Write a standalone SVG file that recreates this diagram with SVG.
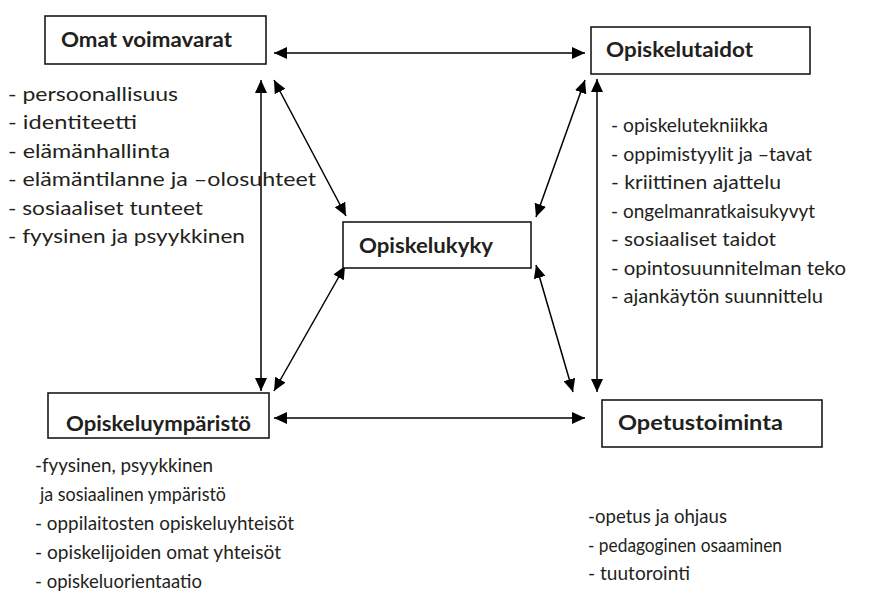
<svg xmlns="http://www.w3.org/2000/svg" width="874" height="599" viewBox="0 0 874 599">
  <style>
    .box { fill: #ffffff; stroke: #1a1a1a; stroke-width: 1.6; }
    .title { font-family: Lato, "Open Sans", sans-serif; font-weight: bold; font-size: 20px; fill: #231f20; }
    .item { font-family: Lato, "Open Sans", sans-serif; font-size: 19px; fill: #231f20; }
    .link { stroke: #000000; stroke-width: 1.5; fill: none; marker-start: url(#arrow); marker-end: url(#arrow); }
  </style>
  <defs>
    <marker id="arrow" markerUnits="userSpaceOnUse" markerWidth="14" markerHeight="12" viewBox="0 0 14 12" refX="13" refY="6" orient="auto-start-reverse">
      <path d="M0,0 L13,6 L0,12 Z" fill="#000000"/>
    </marker>
  </defs>
  <rect width="874" height="599" fill="#ffffff"/>

  <g id="connectors">
    <line class="link" x1="274" y1="53" x2="585" y2="53"/>
    <line class="link" x1="261" y1="80" x2="261" y2="391"/>
    <line class="link" x1="274" y1="80" x2="346" y2="216"/>
    <line class="link" x1="585" y1="80" x2="536" y2="217"/>
    <line class="link" x1="597" y1="79" x2="597" y2="392"/>
    <line class="link" x1="536" y1="265" x2="573" y2="392"/>
    <line class="link" x1="345" y1="266" x2="274" y2="391"/>
    <line class="link" x1="274" y1="418" x2="585" y2="418"/>
  </g>

  <g id="omat-voimavarat">
    <rect class="box" x="45" y="16" width="221" height="48"/>
    <text class="title" x="61" y="47" textLength="171" lengthAdjust="spacingAndGlyphs">Omat voimavarat</text>
    <text class="item" x="8" y="101" textLength="170" lengthAdjust="spacingAndGlyphs">- persoonallisuus</text>
    <text class="item" x="8" y="129.4" textLength="129" lengthAdjust="spacingAndGlyphs">- identiteetti</text>
    <text class="item" x="8" y="157.8" textLength="162" lengthAdjust="spacingAndGlyphs">- elämänhallinta</text>
    <text class="item" x="8" y="186.2" textLength="308" lengthAdjust="spacingAndGlyphs">- elämäntilanne ja –olosuhteet</text>
    <text class="item" x="8" y="214.6" textLength="195" lengthAdjust="spacingAndGlyphs">- sosiaaliset tunteet</text>
    <text class="item" x="8" y="243" textLength="237" lengthAdjust="spacingAndGlyphs">- fyysinen ja psyykkinen</text>
  </g>

  <g id="opiskelutaidot">
    <rect class="box" x="591" y="27" width="219" height="47"/>
    <text class="title" x="606" y="57" textLength="147" lengthAdjust="spacingAndGlyphs">Opiskelutaidot</text>
    <text class="item" x="611" y="132" textLength="157" lengthAdjust="spacingAndGlyphs">- opiskelutekniikka</text>
    <text class="item" x="611" y="160.5" textLength="201" lengthAdjust="spacingAndGlyphs">- oppimistyylit ja –tavat</text>
    <text class="item" x="611" y="189" textLength="170" lengthAdjust="spacingAndGlyphs">- kriittinen ajattelu</text>
    <text class="item" x="611" y="217.5" textLength="204" lengthAdjust="spacingAndGlyphs">- ongelmanratkaisukyvyt</text>
    <text class="item" x="611" y="246" textLength="165" lengthAdjust="spacingAndGlyphs">- sosiaaliset taidot</text>
    <text class="item" x="611" y="274.5" textLength="235" lengthAdjust="spacingAndGlyphs">- opintosuunnitelman teko</text>
    <text class="item" x="611" y="303" textLength="212" lengthAdjust="spacingAndGlyphs">- ajankäytön suunnittelu</text>
  </g>

  <g id="opiskelukyky">
    <rect class="box" x="343" y="222" width="188" height="46"/>
    <text class="title" x="359" y="253" textLength="134" lengthAdjust="spacingAndGlyphs">Opiskelukyky</text>
  </g>

  <g id="opiskeluymparisto">
    <rect class="box" x="48" y="393" width="221" height="45"/>
    <text class="title" x="66" y="431" textLength="185" lengthAdjust="spacingAndGlyphs">Opiskeluympäristö</text>
    <text class="item" x="35" y="472" textLength="178" lengthAdjust="spacingAndGlyphs">-fyysinen, psyykkinen</text>
    <text class="item" x="40" y="501" textLength="186" lengthAdjust="spacingAndGlyphs">ja sosiaalinen ympäristö</text>
    <text class="item" x="35" y="530" textLength="259" lengthAdjust="spacingAndGlyphs">- oppilaitosten opiskeluyhteisöt</text>
    <text class="item" x="35" y="559" textLength="246" lengthAdjust="spacingAndGlyphs">- opiskelijoiden omat yhteisöt</text>
    <text class="item" x="35" y="588" textLength="167" lengthAdjust="spacingAndGlyphs">- opiskeluorientaatio</text>
  </g>

  <g id="opetustoiminta">
    <rect class="box" x="602" y="400" width="220" height="47"/>
    <text class="title" x="618" y="430" textLength="165" lengthAdjust="spacingAndGlyphs">Opetustoiminta</text>
    <text class="item" x="588" y="523" textLength="139" lengthAdjust="spacingAndGlyphs">-opetus ja ohjaus</text>
    <text class="item" x="588" y="551.5" textLength="194" lengthAdjust="spacingAndGlyphs">- pedagoginen osaaminen</text>
    <text class="item" x="588" y="580" textLength="102" lengthAdjust="spacingAndGlyphs">- tuutorointi</text>
  </g>
</svg>
